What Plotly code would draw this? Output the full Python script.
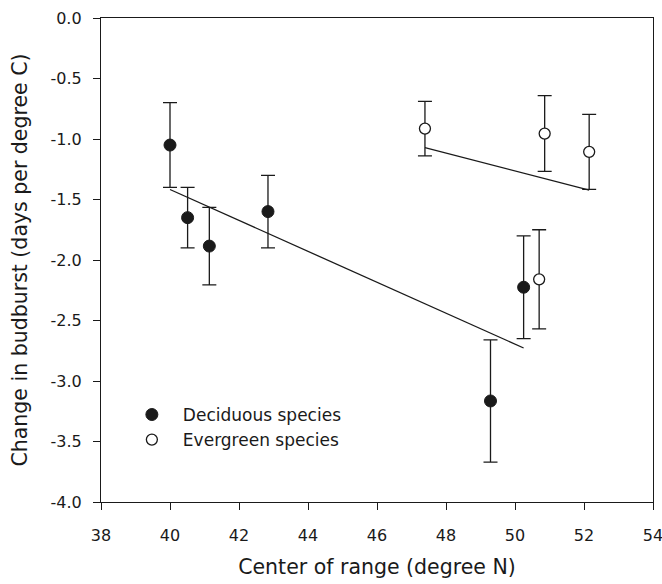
import numpy as np
import plotly.graph_objects as go

# Deciduous species
dec_x = [40.00, 40.51, 41.14, 42.84, 49.29, 50.25]
dec_y = [-1.05, -1.65, -1.885, -1.60, -3.165, -2.225]
dec_err = [0.35, 0.25, 0.32, 0.30, 0.505, 0.425]

# Evergreen species
eve_x = [47.39, 50.86, 52.15, 50.70]
eve_y = [-0.914, -0.955, -1.106, -2.16]
eve_err = [0.225, 0.313, 0.31, 0.41]

x_ticks = [38, 40, 42, 44, 46, 48, 50, 52, 54]
y_ticks = [0.0, -0.5, -1.0, -1.5, -2.0, -2.5, -3.0, -3.5, -4.0]

FONT = "DejaVu Sans"
INK = "#1a1a1a"


def fit_line(xs, ys):
    xs = np.asarray(xs)
    ys = np.asarray(ys)
    slope, icpt = np.polyfit(xs, ys, 1)
    lx = np.array([xs.min(), xs.max()])
    return lx, slope * lx + icpt


fig = go.Figure()

dlx, dly = fit_line(dec_x, dec_y)
elx, ely = fit_line(eve_x, eve_y)

fig.add_trace(go.Scatter(x=dlx, y=dly, mode="lines", showlegend=False,
                         line=dict(color=INK, width=1.3), hoverinfo="skip"))
fig.add_trace(go.Scatter(x=elx, y=ely, mode="lines", showlegend=False,
                         line=dict(color=INK, width=1.3), hoverinfo="skip"))

fig.add_trace(go.Scatter(
    x=dec_x, y=dec_y, mode="markers", name="Deciduous species",
    error_y=dict(type="data", array=dec_err, visible=True, color=INK,
                 thickness=1.3, width=7),
    marker=dict(symbol="circle", size=12, color=INK, line=dict(color=INK, width=1)),
))
fig.add_trace(go.Scatter(
    x=eve_x, y=eve_y, mode="markers", name="Evergreen species",
    error_y=dict(type="data", array=eve_err, visible=True, color=INK,
                 thickness=1.3, width=7),
    marker=dict(symbol="circle", size=11, color="white", line=dict(color=INK, width=1.3)),
))

axis_common = dict(
    showline=True, mirror=True, linecolor=INK, linewidth=1.3,
    showgrid=False, zeroline=False,
    ticks="outside", ticklen=7, tickwidth=1.3, tickcolor=INK,
    tickfont=dict(family=FONT, size=16, color=INK),
    ticklabeloverflow="allow", automargin=False,
)

fig.update_layout(
    width=662, height=584,
    margin=dict(l=101, r=9, t=18, b=82),
    paper_bgcolor="white", plot_bgcolor="white",
    font=dict(family=FONT, color=INK),
    xaxis=dict(range=[38, 54], tickvals=x_ticks, ticktext=[str(v) for v in x_ticks],
               title=dict(text="Center of range (degree N)",
                          font=dict(family=FONT, size=20.5, color=INK), standoff=15),
               ticklabelstandoff=12, **axis_common),
    yaxis=dict(range=[-4, 0], tickvals=y_ticks, ticktext=[f"{v:.1f}" for v in y_ticks],
               title=dict(text="Change in budburst (days per degree C)",
                          font=dict(family=FONT, size=20.5, color=INK), standoff=17),
               ticklabelstandoff=8, **axis_common),
    legend=dict(x=0.036, y=0.217, xanchor="left", yanchor="top",
                bgcolor="rgba(0,0,0,0)", itemwidth=52,
                font=dict(family=FONT, size=17, color=INK)),
)

fig.write_html("out.html")
